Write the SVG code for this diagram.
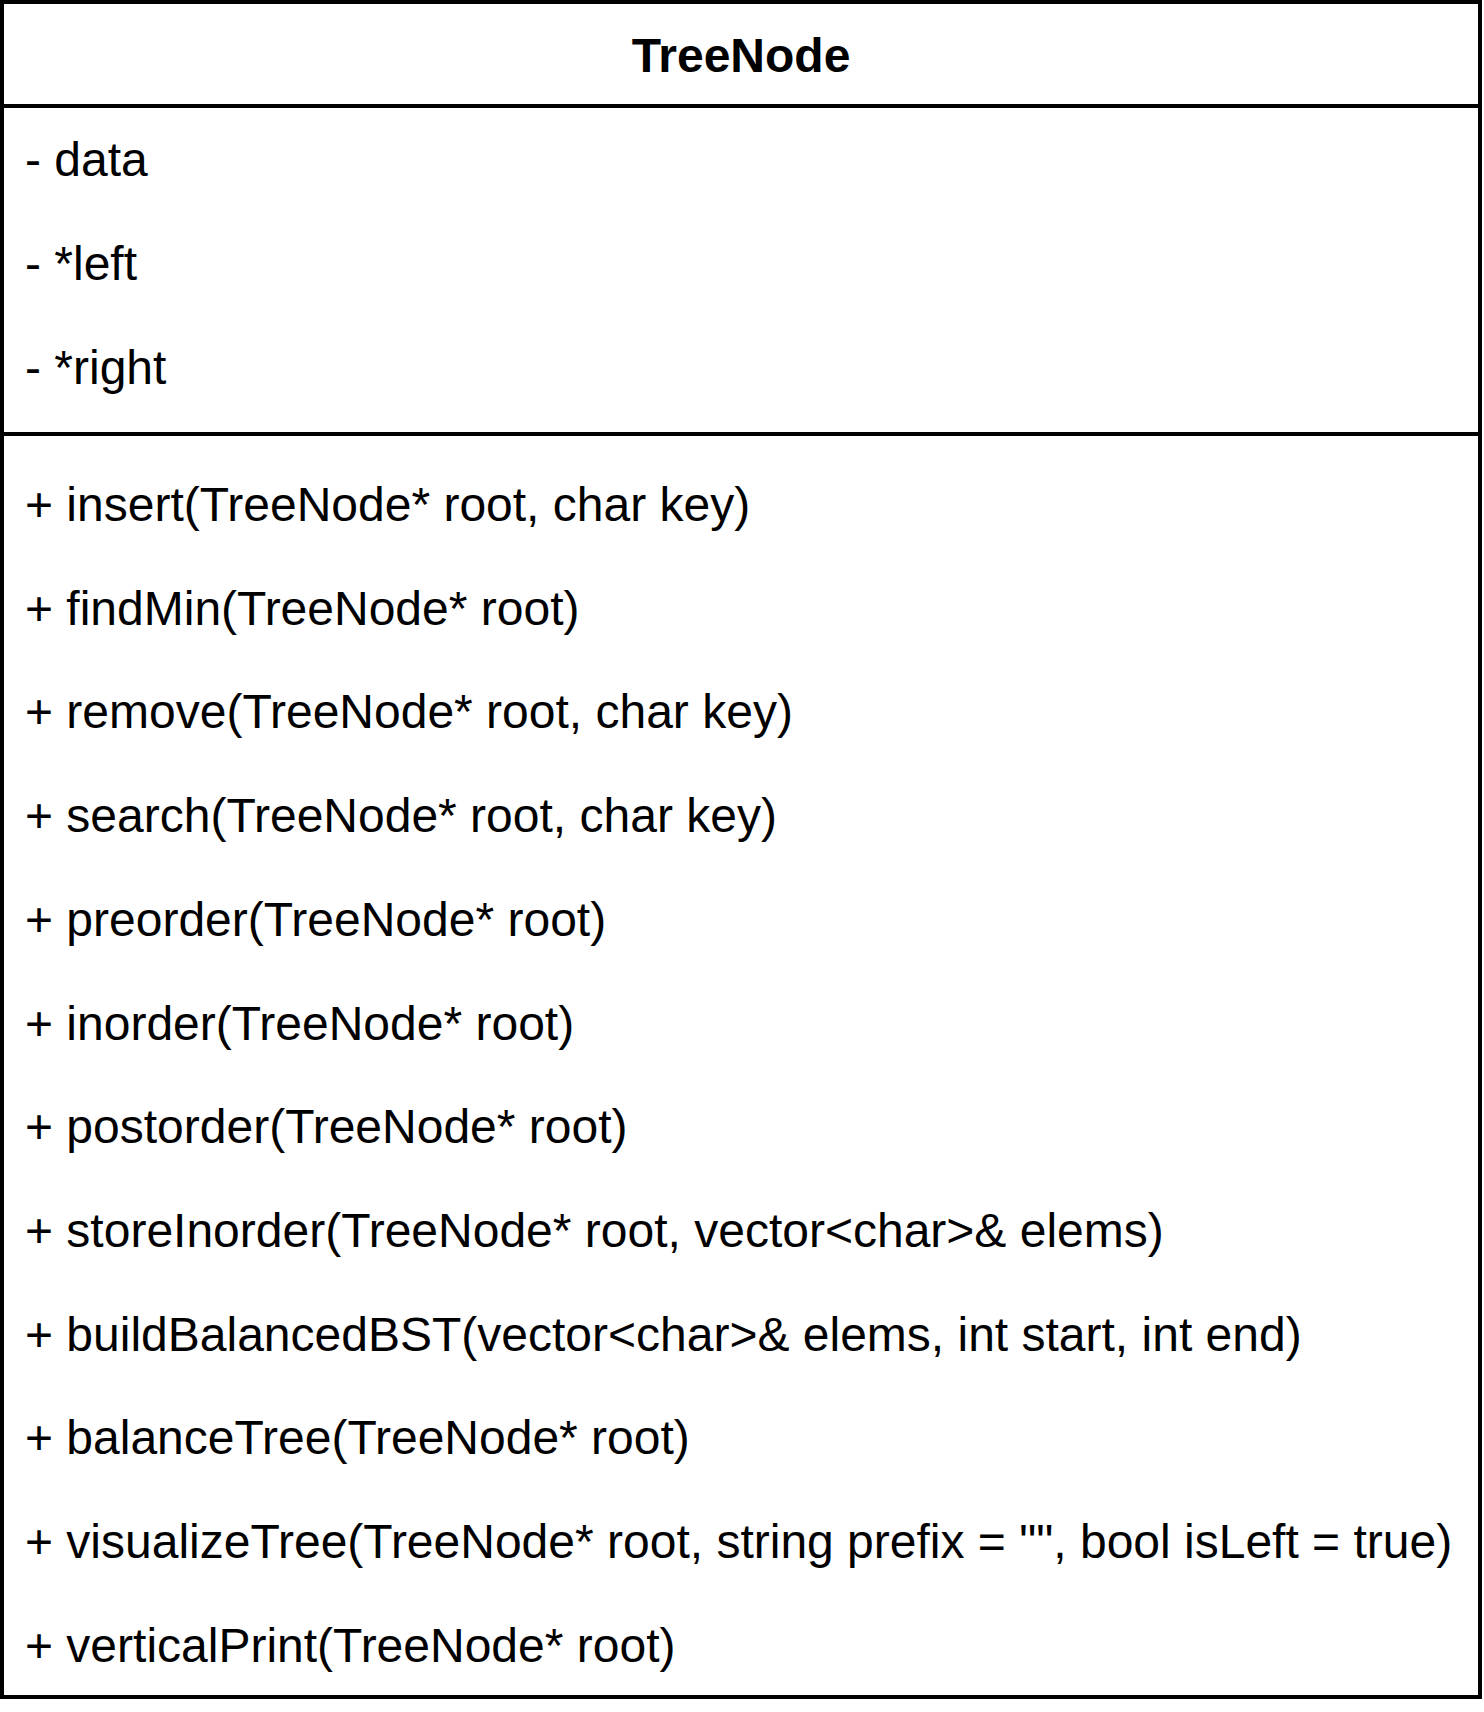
<svg xmlns="http://www.w3.org/2000/svg" width="1484" height="1712" viewBox="0 0 1484 1712">
<style>
.box{fill:#ffffff;stroke:#000000;stroke-width:4}
.sep{stroke:#000000;stroke-width:4}
.t{font-family:"Liberation Sans",Arial,sans-serif;font-size:48px;fill:#000000}
.title{font-family:"Liberation Sans",Arial,sans-serif;font-size:48px;font-weight:bold;fill:#000000}
</style>
<rect width="1484" height="1712" fill="#ffffff"/>
<g id="TreeNode">
<rect class="box" x="2" y="2" width="1478" height="1695"/>
<line class="sep" x1="2" y1="106" x2="1480" y2="106"/>
<line class="sep" x1="2" y1="434" x2="1480" y2="434"/>
<text class="title" x="741" y="72" text-anchor="middle">TreeNode</text>
<text class="t" x="25" y="176">- data</text>
<text class="t" x="25" y="280">- *left</text>
<text class="t" x="25" y="384">- *right</text>
<text class="t" x="25" y="521">+ insert(TreeNode* root, char key)</text>
<text class="t" x="25" y="625">+ findMin(TreeNode* root)</text>
<text class="t" x="25" y="728">+ remove(TreeNode* root, char key)</text>
<text class="t" x="25" y="832">+ search(TreeNode* root, char key)</text>
<text class="t" x="25" y="936">+ preorder(TreeNode* root)</text>
<text class="t" x="25" y="1040">+ inorder(TreeNode* root)</text>
<text class="t" x="25" y="1143">+ postorder(TreeNode* root)</text>
<text class="t" x="25" y="1247">+ storeInorder(TreeNode* root, vector&lt;char&gt;&amp; elems)</text>
<text class="t" x="25" y="1351">+ buildBalancedBST(vector&lt;char&gt;&amp; elems, int start, int end)</text>
<text class="t" x="25" y="1454">+ balanceTree(TreeNode* root)</text>
<text class="t" x="25" y="1558">+ visualizeTree(TreeNode* root, string prefix = "", bool isLeft = true)</text>
<text class="t" x="25" y="1662">+ verticalPrint(TreeNode* root)</text>
</g>
<g id="connectors"/>
</svg>
